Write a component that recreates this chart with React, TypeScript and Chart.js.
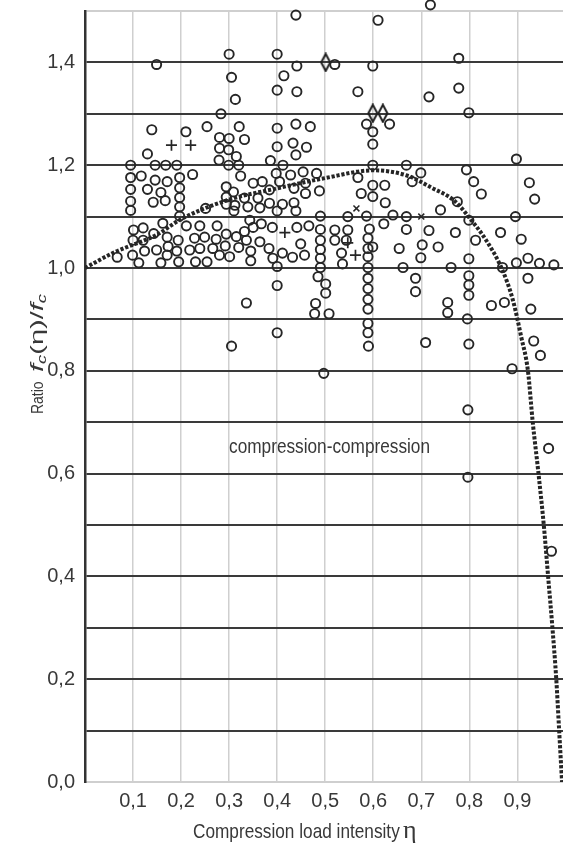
import React, { useEffect, useRef } from "react";
import { Chart, registerables } from "chart.js";

Chart.register(...registerables);

// ---------- data ----------
const xTickValues = [0, 0.1, 0.2, 0.3, 0.4, 0.5, 0.6, 0.7, 0.8, 0.9];
const xTickLabels = ["", "0,1", "0,2", "0,3", "0,4", "0,5", "0,6", "0,7", "0,8", "0,9"];
const yTickValues = [0, 0.1, 0.2, 0.3, 0.4, 0.5, 0.6, 0.7, 0.8, 0.9, 1.0, 1.1, 1.2, 1.3, 1.4, 1.5];
const yTickLabels = ["0,0", "", "0,2", "", "0,4", "", "0,6", "", "0,8", "", "1,0", "", "1,2", "", "1,4", ""];

const curveEta = [0, 0.06, 0.15, 0.2, 0.3, 0.4, 0.5, 0.6, 0.67, 0.72, 0.77, 0.8, 0.835, 0.867, 0.89, 0.908, 0.922, 0.932, 0.944, 0.955, 0.964, 0.973, 0.981, 0.987, 0.993];
const curveRatio = [1.0, 1.03, 1.065, 1.095, 1.133, 1.155, 1.175, 1.19, 1.18, 1.157, 1.13, 1.098, 1.054, 1.0, 0.94, 0.866, 0.8, 0.7, 0.6, 0.5, 0.4, 0.3, 0.2, 0.1, 0.0];

const circlePoints: [number, number][] = [
  [0.149, 1.396], [0.300, 1.416], [0.305, 1.371], [0.313, 1.328], [0.283, 1.300], [0.139, 1.269], [0.210, 1.265],
  [0.254, 1.275], [0.321, 1.275], [0.280, 1.254], [0.300, 1.252], [0.332, 1.250],
  [0.130, 1.222], [0.280, 1.233], [0.299, 1.230], [0.315, 1.217], [0.279, 1.210], [0.299, 1.200], [0.320, 1.200],
  [0.095, 1.200], [0.146, 1.200], [0.168, 1.200], [0.191, 1.200],
  [0.095, 1.176], [0.095, 1.153], [0.095, 1.130], [0.095, 1.112],
  [0.117, 1.179], [0.130, 1.153], [0.146, 1.171], [0.171, 1.168], [0.158, 1.147], [0.142, 1.128], [0.167, 1.131], [0.224, 1.182],
  [0.197, 1.176], [0.197, 1.156], [0.197, 1.137], [0.197, 1.119], [0.197, 1.101], [0.251, 1.116],
  [0.101, 1.074], [0.121, 1.078], [0.100, 1.054], [0.121, 1.054], [0.067, 1.021], [0.099, 1.025], [0.112, 1.010],
  [0.124, 1.033], [0.143, 1.067], [0.162, 1.087], [0.149, 1.035], [0.158, 1.010], [0.171, 1.060], [0.173, 1.042],
  [0.171, 1.025], [0.194, 1.054], [0.191, 1.033], [0.195, 1.012], [0.211, 1.082], [0.228, 1.058], [0.218, 1.035],
  [0.239, 1.082], [0.249, 1.060], [0.239, 1.038], [0.230, 1.012], [0.254, 1.012], [0.275, 1.082], [0.273, 1.056],
  [0.266, 1.038], [0.280, 1.025], [0.294, 1.066], [0.292, 1.043], [0.301, 1.022], [0.315, 1.061], [0.320, 1.040],
  [0.332, 1.071], [0.336, 0.932],
  [0.324, 1.179], [0.294, 1.158], [0.309, 1.148], [0.294, 1.138], [0.332, 1.136], [0.294, 1.124], [0.312, 1.122], [0.310, 1.111],
  [0.439, 1.492], [0.610, 1.482], [0.400, 1.416], [0.441, 1.393], [0.414, 1.374], [0.400, 1.346], [0.441, 1.343],
  [0.520, 1.396], [0.599, 1.393], [0.568, 1.343], [0.586, 1.280], [0.634, 1.280], [0.599, 1.265], [0.400, 1.272],
  [0.439, 1.280], [0.469, 1.275],
  [0.400, 1.236], [0.433, 1.243], [0.461, 1.235], [0.439, 1.220], [0.386, 1.209], [0.412, 1.200], [0.599, 1.241],
  [0.599, 1.200], [0.669, 1.200],
  [0.398, 1.184], [0.428, 1.181], [0.454, 1.187], [0.482, 1.184], [0.405, 1.168], [0.350, 1.165], [0.369, 1.168],
  [0.384, 1.152], [0.435, 1.155], [0.459, 1.145], [0.488, 1.150], [0.459, 1.165], [0.568, 1.176], [0.575, 1.145],
  [0.599, 1.161], [0.624, 1.161], [0.599, 1.139], [0.625, 1.127], [0.641, 1.103],
  [0.339, 1.119], [0.360, 1.136], [0.364, 1.117], [0.384, 1.126], [0.400, 1.111], [0.411, 1.124], [0.435, 1.127], [0.439, 1.111],
  [0.490, 1.101], [0.547, 1.100], [0.586, 1.101], [0.669, 1.100],
  [0.343, 1.093], [0.350, 1.079], [0.367, 1.086], [0.390, 1.079], [0.441, 1.079], [0.466, 1.082], [0.490, 1.075],
  [0.520, 1.074], [0.547, 1.074], [0.592, 1.076], [0.622, 1.086], [0.669, 1.075],
  [0.336, 1.054], [0.364, 1.051], [0.345, 1.033], [0.345, 1.014], [0.383, 1.038], [0.391, 1.019], [0.400, 1.003],
  [0.411, 1.029], [0.432, 1.021], [0.449, 1.047], [0.457, 1.025],
  [0.490, 1.054], [0.490, 1.036], [0.490, 1.019], [0.490, 1.001], [0.485, 0.983], [0.501, 0.969], [0.501, 0.951],
  [0.480, 0.931], [0.478, 0.911], [0.508, 0.911], [0.400, 0.966], [0.400, 0.874],
  [0.520, 1.054], [0.544, 1.054], [0.534, 1.029], [0.536, 1.008],
  [0.589, 1.058], [0.589, 1.038], [0.589, 1.022], [0.589, 1.001], [0.589, 0.980], [0.589, 0.960], [0.589, 0.939],
  [0.589, 0.920], [0.589, 0.892], [0.589, 0.874], [0.599, 1.041], [0.654, 1.038], [0.662, 1.001],
  [0.305, 0.848], [0.497, 0.795], [0.590, 0.848], [0.709, 0.855], [0.799, 0.852], [0.797, 0.724], [0.797, 0.593],
  [0.889, 0.804], [0.934, 0.858], [0.948, 0.830], [0.965, 0.649], [0.971, 0.449],
  [0.719, 1.512], [0.778, 1.408], [0.716, 1.333], [0.778, 1.350], [0.799, 1.302], [0.898, 1.212], [0.699, 1.185], [0.794, 1.191],
  [0.681, 1.168], [0.809, 1.168], [0.825, 1.144], [0.925, 1.166], [0.936, 1.134], [0.740, 1.113], [0.775, 1.129],
  [0.799, 1.093], [0.896, 1.100], [0.716, 1.073], [0.771, 1.069], [0.813, 1.054], [0.865, 1.069], [0.908, 1.056],
  [0.702, 1.045], [0.735, 1.041], [0.699, 1.020], [0.799, 1.018], [0.762, 1.001], [0.869, 1.001], [0.898, 1.010],
  [0.922, 1.019], [0.946, 1.009], [0.976, 1.006], [0.688, 0.980], [0.688, 0.954], [0.799, 0.985], [0.799, 0.967],
  [0.799, 0.947], [0.922, 0.980], [0.755, 0.933], [0.755, 0.913], [0.846, 0.927], [0.873, 0.933], [0.928, 0.920],
  [0.796, 0.901],
];

const plusPoints: [number, number][] = [[0.180, 1.239], [0.220, 1.239], [0.416, 1.069], [0.547, 1.049], [0.563, 1.025]];
const xMarkPoints: [number, number][] = [[0.565, 1.116], [0.700, 1.100]];
const diamondPoints: [number, number][] = [[0.501, 1.400], [0.599, 1.301], [0.620, 1.301]];

const annotationText = "compression-compression";
const annotationEta = 0.509;
const annotationRatio = 0.652;
const xTitle = "Compression load intensity";
const xTitleSymbol = "η";
const yTitleWord = "Ratio";

// ---------- styles ----------
const SANS = '"Liberation Sans", Arial, Helvetica, sans-serif';
const SERIF = '"Liberation Serif", "DejaVu Serif", serif';
const INK = "#262626";
const TEXT = "#383838";

function makeDiamond(): HTMLCanvasElement {
  const c = document.createElement("canvas");
  c.width = 12;
  c.height = 20;
  const g = c.getContext("2d")!;
  g.strokeStyle = "#1e1e1e";
  g.lineWidth = 2;
  g.beginPath();
  g.moveTo(6, 1.5);
  g.lineTo(10.5, 10);
  g.lineTo(6, 18.5);
  g.lineTo(1.5, 10);
  g.closePath();
  g.stroke();
  return c;
}

const zeroPad = (s: any) => {
  s.paddingLeft = 0;
  s.paddingRight = 0;
  s.paddingTop = 0;
  s.paddingBottom = 0;
};

const textPlugin = {
  id: "textPlugin",
  afterDraw(chart: any) {
    const ctx: CanvasRenderingContext2D = chart.ctx;
    const xs = chart.scales.x;
    const ys = chart.scales.y;
    ctx.save();
    ctx.fillStyle = TEXT;

    // annotation inside plot
    ctx.save();
    ctx.translate(xs.getPixelForValue(annotationEta), ys.getPixelForValue(annotationRatio));
    ctx.scale(0.82, 1);
    ctx.font = `21px ${SANS}`;
    ctx.textAlign = "center";
    ctx.textBaseline = "middle";
    ctx.fillText(annotationText, 0, 0);
    ctx.restore();

    // x title
    ctx.save();
    ctx.translate(193, 838);
    ctx.scale(0.82, 1);
    ctx.font = `21px ${SANS}`;
    ctx.textAlign = "left";
    ctx.textBaseline = "alphabetic";
    ctx.fillText(xTitle, 0, 0);
    ctx.restore();
    ctx.font = `26px ${SERIF}`;
    ctx.textAlign = "left";
    ctx.textBaseline = "alphabetic";
    ctx.fillText(xTitleSymbol, 403, 838);

    // y title (rotated)
    ctx.save();
    ctx.translate(38, 414);
    ctx.rotate(-Math.PI / 2);
    ctx.textAlign = "left";
    ctx.textBaseline = "middle";
    ctx.save();
    ctx.scale(0.82, 1);
    ctx.font = `17px ${SANS}`;
    ctx.fillText(yTitleWord, 0, 0);
    ctx.restore();

    // f_c(η)/f_c
    const parts: { t: string; font: string; dy: number }[] = [
      { t: "f", font: `italic 19px ${SANS}`, dy: 0 },
      { t: "c", font: `italic 12px ${SANS}`, dy: 5 },
      { t: "(η)/", font: `19px ${SANS}`, dy: 0 },
      { t: "f", font: `italic 19px ${SANS}`, dy: 0 },
      { t: "c", font: `italic 12px ${SANS}`, dy: 5 },
    ];
    let total = 0;
    for (const p of parts) {
      ctx.font = p.font;
      total += ctx.measureText(p.t).width;
    }
    const target = 78;
    const k = target / total;
    ctx.translate(42, 0);
    ctx.scale(k, 1);
    let pos = 0;
    for (const p of parts) {
      ctx.font = p.font;
      ctx.fillText(p.t, pos, p.dy);
      pos += ctx.measureText(p.t).width;
    }
    ctx.restore();

    ctx.restore();
  },
};

export default function App() {
  const ref = useRef<HTMLCanvasElement>(null);

  useEffect(() => {
    const diamond = makeDiamond();
    const toXY = (pts: [number, number][]) => pts.map(([x, y]) => ({ x, y }));
    const curve = curveEta.map((x, i) => ({ x, y: curveRatio[i] }));

    const chart = new Chart(ref.current!, {
      type: "scatter",
      data: {
        datasets: [
          {
            data: curve,
            showLine: true,
            pointRadius: 0,
            borderColor: "#252525",
            borderWidth: 4,
            borderDash: [3.2, 1.8],
            cubicInterpolationMode: "monotone",
            fill: false,
          } as any,
          {
            data: toXY(circlePoints),
            pointStyle: "circle",
            pointRadius: 4.6,
            borderWidth: 1.9,
            borderColor: INK,
            backgroundColor: "rgba(0,0,0,0)",
            clip: false,
          } as any,
          {
            data: toXY(plusPoints),
            pointStyle: "cross",
            pointRadius: 5.5,
            borderWidth: 1.7,
            borderColor: INK,
            clip: false,
          } as any,
          {
            data: toXY(xMarkPoints),
            pointStyle: "crossRot",
            pointRadius: 4.2,
            borderWidth: 1.5,
            borderColor: INK,
            clip: false,
          } as any,
          {
            data: toXY(diamondPoints),
            pointStyle: diamond,
            clip: false,
          } as any,
        ],
      },
      options: {
        animation: false,
        responsive: false,
        devicePixelRatio: 1,
        layout: { autoPadding: false, padding: { top: 11, right: 0, bottom: 0, left: 0 } },
        plugins: { legend: { display: false }, tooltip: { enabled: false } },
        scales: {
          x: {
            type: "linear",
            min: 0,
            max: 0.995,
            afterBuildTicks: (axis: any) => {
              axis.ticks = xTickValues.map((v) => ({ value: v }));
            },
            afterFit: (s: any) => {
              s.height = 63;
              zeroPad(s);
            },
            ticks: {
              autoSkip: false,
              maxRotation: 0,
              padding: 7,
              color: TEXT,
              font: { family: SANS, size: 20 },
              callback: (v: any) => {
                const i = xTickValues.findIndex((t) => Math.abs(t - Number(v)) < 1e-6);
                return i >= 0 ? xTickLabels[i] : "";
              },
            },
            grid: { color: "#cfcfcf", lineWidth: 1.5, drawTicks: false },
            border: { color: "#cfcfcf", width: 2 },
          },
          y: {
            type: "linear",
            min: 0,
            max: 1.5,
            afterBuildTicks: (axis: any) => {
              axis.ticks = yTickValues.map((v) => ({ value: v }));
            },
            afterFit: (s: any) => {
              s.width = 85;
              zeroPad(s);
            },
            ticks: {
              autoSkip: false,
              padding: 10,
              color: TEXT,
              font: { family: SANS, size: 20 },
              callback: (v: any) => {
                const i = yTickValues.findIndex((t) => Math.abs(t - Number(v)) < 1e-6);
                return i >= 0 ? yTickLabels[i] : "";
              },
            },
            grid: {
              drawTicks: false,
              lineWidth: 2,
              color: (c: any) => {
                const v = c.tick ? c.tick.value : 0;
                return v < 0.05 || v > 1.45 ? "#cfcfcf" : "#3a3a3a";
              },
            },
            border: { color: "#333", width: 2.5 },
          },
        },
      } as any,
      plugins: [textPlugin],
    });
    return () => chart.destroy();
  }, []);

  return (
    <div style={{ position: "absolute", left: 0, top: 0, width: 563, height: 845, background: "#fff" }}>
      <canvas ref={ref} width={563} height={845} style={{ display: "block", width: 563, height: 845 }} />
    </div>
  );
}
